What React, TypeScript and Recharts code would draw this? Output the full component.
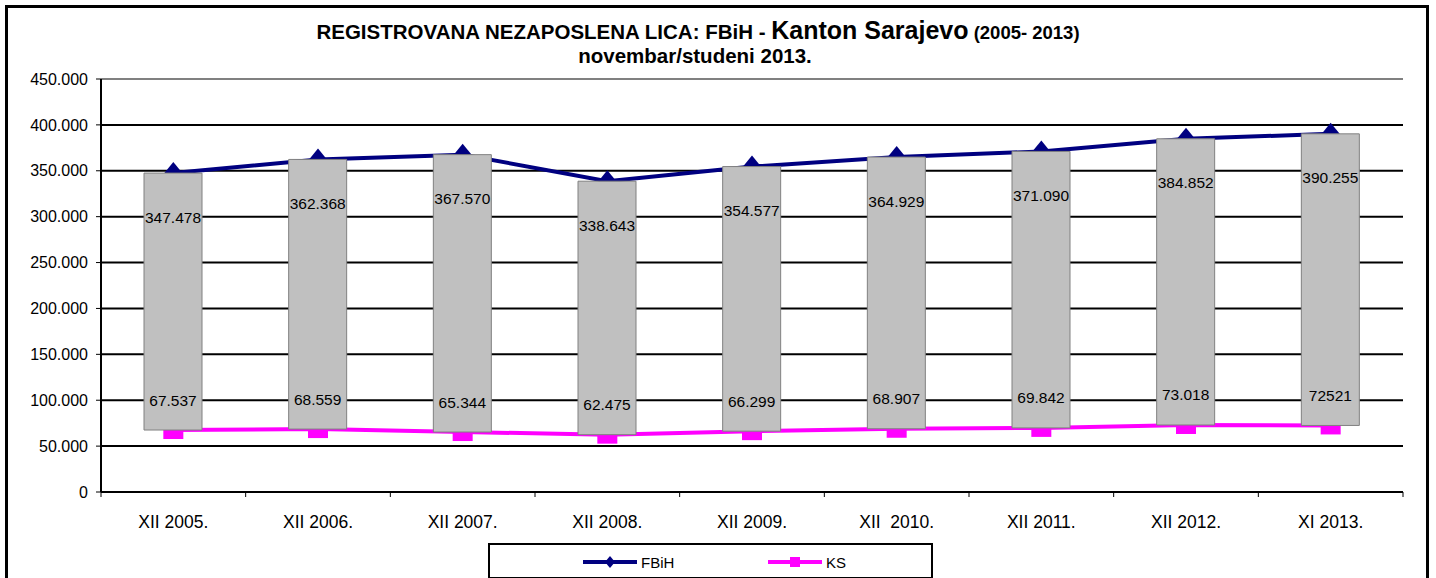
import { ComposedChart, Bar, Line, XAxis, YAxis, CartesianGrid, LabelList, ReferenceLine } from 'recharts'

const categories = ['XII 2005.', 'XII 2006.', 'XII 2007.', 'XII 2008.', 'XII 2009.', 'XII  2010.', 'XII 2011.', 'XII 2012.', 'XI 2013.']
const fbihValues = [347478, 362368, 367570, 338643, 354577, 364929, 371090, 384852, 390255]
const ksValues = [67537, 68559, 65344, 62475, 66299, 68907, 69842, 73018, 72521]
const fbihLabels = ['347.478', '362.368', '367.570', '338.643', '354.577', '364.929', '371.090', '384.852', '390.255']
const ksLabels = ['67.537', '68.559', '65.344', '62.475', '66.299', '68.907', '69.842', '73.018', '72521']
const yTicks = [0, 50000, 100000, 150000, 200000, 250000, 300000, 350000, 400000, 450000]

const FONT = "'Liberation Sans', Arial, sans-serif"
const W = 1436
const H = 578
const M = { top: 79, right: 33, bottom: 56, left: 41 }
const Y_W = 60
const X_H = 30
const PLOT_W = W - M.left - M.right - Y_W
const BAND = PLOT_W / categories.length
const AXIS_Y = H - M.bottom - X_H
// the bars sit in a second chart on top, so they hide the line markers like in Excel
const M_TOP = { top: M.top, right: M.right, bottom: M.bottom + X_H, left: M.left + Y_W }

const data = categories.map((name, i) => ({
  name,
  fbih: fbihValues[i],
  ks: ksValues[i],
  range: [ksValues[i], fbihValues[i]],
}))

const fmt = (v: number) => (v === 0 ? '0' : String(v).replace(/\B(?=(\d{3})+(?!\d))/g, '.'))

function Diamond({ cx, cy }: any) {
  if (cx == null || cy == null) return null
  return <polygon points={`${cx},${cy - 11} ${cx + 9},${cy} ${cx},${cy + 11} ${cx - 9},${cy}`} fill="#000080" />
}

function Square({ cx, cy }: any) {
  if (cx == null || cy == null) return null
  return <rect x={cx - 10} y={cy - 10} width={20} height={19} fill="#FF00FF" />
}

function XTick({ x, payload, index }: any) {
  const last = index === categories.length - 1
  return (
    <g>
      <line x1={x - BAND / 2} x2={x - BAND / 2} y1={AXIS_Y} y2={AXIS_Y + 5} stroke="#000" strokeWidth={1} />
      {last && <line x1={x + BAND / 2} x2={x + BAND / 2} y1={AXIS_Y} y2={AXIS_Y + 5} stroke="#000" strokeWidth={1} />}
      <text x={x} y={AXIS_Y + 36} textAnchor="middle" fontSize={17.5} fontFamily={FONT} fill="#000" style={{ whiteSpace: 'pre' }}>
        {payload.value}
      </text>
    </g>
  )
}

function BarLabels({ x, y, width, height, index }: any) {
  const cx = x + width / 2
  const top = Math.min(y, y + height)
  const bottom = Math.max(y, y + height)
  return (
    <g fontFamily={FONT} fontSize={15.5} fill="#000">
      <text x={cx} y={top + 44} textAnchor="middle" dominantBaseline="central">{fbihLabels[index]}</text>
      <text x={cx} y={bottom - 30} textAnchor="middle" dominantBaseline="central">{ksLabels[index]}</text>
    </g>
  )
}

export default function App() {
  return (
    <div style={{ position: 'absolute', left: 0, top: 0, width: W, height: H, overflow: 'hidden', background: '#fff', fontFamily: FONT }}>
      <div style={{ position: 'absolute', left: 5, top: 5, width: 1424, height: 620, border: '3px solid #000', boxSizing: 'border-box' }} />

      <svg width={W} height={70} style={{ position: 'absolute', left: 0, top: 0 }}>
        <text x={698} y={39} textAnchor="middle" fontFamily={FONT} fontWeight="bold" fontSize={20.5} fill="#000">
          REGISTROVANA NEZAPOSLENA LICA: FBiH - <tspan fontSize={25}>Kanton Sarajevo</tspan>
          <tspan fontSize={18.5}> (2005- 2013)</tspan>
        </text>
        <text x={695} y={63} textAnchor="middle" fontFamily={FONT} fontWeight="bold" fontSize={20.5} fill="#000">
          novembar/studeni 2013.
        </text>
      </svg>

      <div style={{ position: 'absolute', left: 0, top: 0 }}>
        <ComposedChart width={W} height={H} data={data} margin={M}>
          <CartesianGrid vertical={false} stroke="#000" strokeWidth={2} />
          <XAxis dataKey="name" interval={0} height={X_H} tickLine={false} axisLine={{ stroke: '#000', strokeWidth: 2 }} tick={<XTick />} />
          <YAxis
            width={Y_W}
            domain={[0, 450000]}
            ticks={yTicks}
            tickFormatter={fmt}
            tickSize={5}
            tickMargin={8}
            axisLine={{ stroke: '#000', strokeWidth: 2 }}
            tickLine={{ stroke: '#000' }}
            tick={{ fontSize: 16, fill: '#000', fontFamily: FONT }}
          />
          <YAxis yAxisId="r" orientation="right" width={0} tick={false} tickLine={false} axisLine={{ stroke: '#808080', strokeWidth: 2 }} />
          <ReferenceLine y={450000} stroke="#808080" strokeWidth={2} />
          {/* invisible bar keeps the band scale identical to the overlay chart */}
          <Bar dataKey="range" barSize={58} fill="transparent" isAnimationActive={false} />
          <Line dataKey="fbih" stroke="#000080" strokeWidth={4} dot={<Diamond />} activeDot={false} isAnimationActive={false} />
          <Line dataKey="ks" stroke="#FF00FF" strokeWidth={4} dot={<Square />} activeDot={false} isAnimationActive={false} />
        </ComposedChart>
      </div>

      <div style={{ position: 'absolute', left: 0, top: 0 }}>
        <ComposedChart width={W} height={H} data={data} margin={M_TOP}>
          <XAxis dataKey="name" hide />
          <YAxis domain={[0, 450000]} ticks={yTicks} hide />
          <Bar dataKey="range" barSize={58} fill="#C0C0C0" stroke="#808080" strokeWidth={1} isAnimationActive={false}>
            <LabelList dataKey="range" content={<BarLabels />} />
          </Bar>
        </ComposedChart>
      </div>

      <div style={{ position: 'absolute', left: 488, top: 543, width: 445, height: 36, border: '2px solid #000', boxSizing: 'border-box', background: '#fff' }}>
        <svg width={441} height={32} style={{ display: 'block' }}>
          <line x1={93} x2={147} y1={17} y2={17} stroke="#000080" strokeWidth={4} />
          <polygon points="120,11 125,17 120,23 115,17" fill="#000080" />
          <text x={151} y={17} dominantBaseline="central" fontSize={15} fontFamily={FONT} fill="#000">FBiH</text>
          <line x1={278} x2={332} y1={17} y2={17} stroke="#FF00FF" strokeWidth={4} />
          <rect x={300} y={12} width={10} height={10} fill="#FF00FF" />
          <text x={336} y={17} dominantBaseline="central" fontSize={15} fontFamily={FONT} fill="#000">KS</text>
        </svg>
      </div>
    </div>
  )
}
